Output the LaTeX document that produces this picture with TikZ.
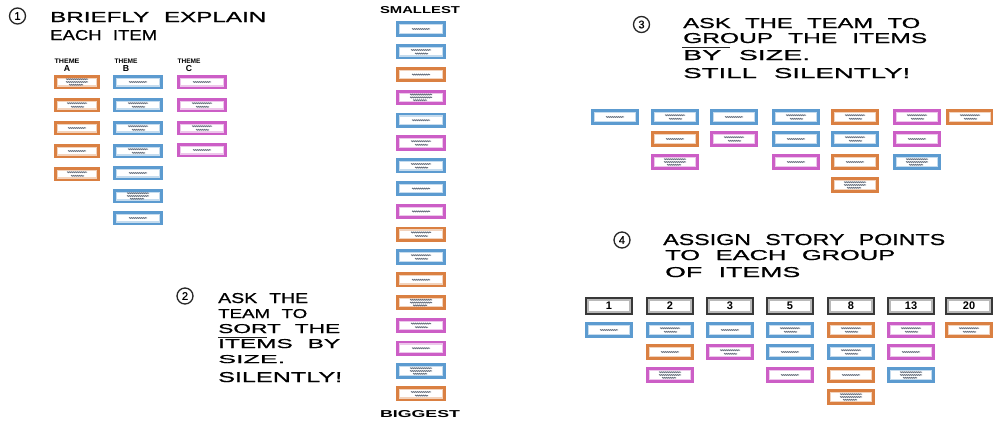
\documentclass[tikz,border=0pt]{standalone}
\usepackage{fontspec}
\usepackage{graphicx}
\setmainfont{Liberation Sans}
\newfontfamily\hand[WordSpace=2.2,FakeBold=0.7]{Liberation Sans}
\usetikzlibrary{decorations.pathmorphing}
\definecolor{cOr}{RGB}{218,128,66}
\definecolor{cBl}{RGB}{92,155,208}
\definecolor{cMg}{RGB}{204,94,198}
\definecolor{scr}{RGB}{105,114,128}
\newcommand\hw[3]{\resizebox{#1pt}{#2pt}{\hand #3}}
\tikzset{
 card/.style={rectangle, line width=3.2pt, fill=white, inner sep=0pt},
 scrib/.style={draw=scr, line width=0.9pt, decorate, decoration={snake, amplitude=0.4pt, segment length=2pt}},
 numbox/.style={rectangle, draw=black!78, line width=2.4pt, fill=white, minimum width=45pt, minimum height=15pt, inner sep=0pt, font=\bfseries\fontsize{11}{11}\selectfont},
 hwtext/.style={anchor=base west, inner sep=0pt},
 circ/.style={circle, draw=black!85, line width=1.3pt, inner sep=0pt, minimum size=16pt, font=\hand\fontsize{11}{11}\selectfont},
 hdr/.style={inner sep=0pt, anchor=base},
 uline/.style={draw=black!85, line width=1.1pt},
}
\newcommand\card[7]{%
 \node[card, draw=#4, minimum width=#6pt, minimum height=#7pt] (#1) at (#2,#3) {};
 \draw[#4!35, line width=1.1pt] ([xshift=3.4pt,yshift=-3.4pt]#1.north west) rectangle ([xshift=-3.4pt,yshift=3.4pt]#1.south east);
 \ifcase#5\or
  \draw[scrib] ([xshift=-9pt]#1.center) -- ([xshift=9pt]#1.center);
 \or
  \draw[scrib] ([xshift=-10pt,yshift=1.8pt]#1.center) -- ([xshift=10pt,yshift=1.8pt]#1.center);
  \draw[scrib] ([xshift=-6pt,yshift=-1.8pt]#1.center) -- ([xshift=7pt,yshift=-1.8pt]#1.center);
 \or
  \draw[scrib] ([xshift=-11pt,yshift=2.8pt]#1.center) -- ([xshift=11pt,yshift=2.8pt]#1.center);
  \draw[scrib] ([xshift=-11pt]#1.center) -- ([xshift=11pt]#1.center);
  \draw[scrib] ([xshift=-8pt,yshift=-2.8pt]#1.center) -- ([xshift=6pt,yshift=-2.8pt]#1.center);
 \fi}
\begin{document}
\begin{tikzpicture}[x=1pt,y=-1pt]
\useasboundingbox (0,0) rectangle (993,424);
\fill[white] (0,0) rectangle (993,424);

% ---------- Panel 1 ----------
\node[circ] (c1) at (17.5,16) {1};
\node[hwtext] (t1a) at (50,22) {\hw{216}{10}{BRIEFLY EXPLAIN}};
\node[hwtext] (t1b) at (50,40) {\hw{107}{10}{EACH ITEM}};
\node[hdr] (hA1) at (67,63) {\resizebox{25pt}{4.5pt}{\bfseries THEME}};
\node[hdr] (hA2) at (67,71) {\resizebox{!}{6pt}{\bfseries A}};
\node[hdr] (hB1) at (126,63) {\resizebox{23pt}{4.5pt}{\bfseries THEME}};
\node[hdr] (hB2) at (126,71) {\resizebox{!}{6pt}{\bfseries B}};
\node[hdr] (hC1) at (189,63) {\resizebox{23pt}{4.5pt}{\bfseries THEME}};
\node[hdr] (hC2) at (189,71) {\resizebox{!}{6pt}{\bfseries C}};
\foreach \yy/\n [count=\i] in {82/3,105/2,128/1,151/1,174/2}
  {\card{a\i}{77}{\yy}{cOr}{\n}{43}{11.5}}
\foreach \yy/\n [count=\i] in {82/1,105/2,128/2,151/2,173/1,196/3,218/1}
  {\card{b\i}{138}{\yy}{cBl}{\n}{46}{11.5}}
\foreach \yy/\n [count=\i] in {82/1,105/2,128/2,150/1}
  {\card{cc\i}{202}{\yy}{cMg}{\n}{46}{11.5}}

% ---------- Panel 2 ----------
\node[hdr] (small) at (420,13) {\resizebox{80pt}{7pt}{\bfseries SMALLEST}};
\foreach \col/\n [count=\i from 0] in {cBl/1,cBl/2,cOr/1,cMg/3,cBl/1,cMg/2,cBl/2,cBl/1,cMg/1,cOr/2,cBl/2,cOr/1,cOr/3,cMg/2,cMg/1,cBl/3,cOr/2}
  {\pgfmathsetmacro\yy{29+22.8*\i}\card{m\i}{421}{\yy}{\col}{\n}{46}{12}}
\node[hdr] (big) at (420,417) {\resizebox{80pt}{7pt}{\bfseries BIGGEST}};

\node[circ] (c2) at (185,296) {2};
\node[hwtext] (t2a) at (218,303) {\hw{90}{10}{ASK THE}};
\node[hwtext] (t2b) at (218,318) {\hw{89}{9}{TEAM TO}};
\node[hwtext] (t2c) at (218,333) {\hw{122}{9}{SORT THE}};
\draw[uline] (218,337.5) -- (267,337.5);
\node[hwtext] (t2d) at (218,348) {\hw{122}{9}{ITEMS BY}};
\node[hwtext] (t2e) at (218,363) {\hw{67}{8}{SIZE.}};
\node[hwtext] (t2f) at (218,382) {\hw{124}{10}{SILENTLY!}};

% ---------- Panel 3 ----------
\node[circ] (c3) at (641.5,24.5) {3};
\node[hwtext] (t3a) at (683,28) {\hw{237}{10}{ASK THE TEAM TO}};
\node[hwtext] (t3b) at (683,43) {\hw{244}{10}{GROUP THE ITEMS}};
\draw[uline] (682,47.5) -- (730,47.5);
\node[hwtext] (t3c) at (683,60) {\hw{127}{10}{BY SIZE.}};
\node[hwtext] (t3d) at (683,78) {\hw{227}{10}{STILL SILENTLY!}};
\foreach \ci/\ri/\col/\n in {1/1/cBl/1,2/1/cBl/2,2/2/cOr/1,2/3/cMg/3,3/1/cBl/1,3/2/cMg/2,4/1/cBl/2,4/2/cBl/1,4/3/cMg/1,5/1/cOr/2,5/2/cBl/2,5/3/cOr/1,5/4/cOr/3,6/1/cMg/2,6/2/cMg/1,6/3/cBl/3,7/1/cOr/2}
  {\pgfmathsetmacro\xx{{615,675,734,796,855,917,970}[\ci-1]}%
   \pgfmathsetmacro\yy{{117,139,162,185}[\ri-1]}%
   \card{g\ci r\ri}{\xx}{\yy}{\col}{\n}{44}{12}}

% ---------- Panel 4 ----------
\node[circ] (c4) at (622,240) {4};
\node[hwtext] (t4a) at (663,245) {\hw{282}{11}{ASSIGN STORY POINTS}};
\node[hwtext] (t4b) at (665,260) {\hw{230}{10}{TO EACH GROUP}};
\node[hwtext] (t4c) at (665,277) {\hw{135}{10}{OF ITEMS}};
\foreach \x/\l [count=\i] in {609/1,670/2,730/3,790/5,851/8,911/13,969/20}
  {\node[numbox] (n\i) at (\x,306) {\l};
   \draw[gray!55, line width=1.4pt] ([xshift=2.7pt,yshift=-2.7pt]n\i.north west) rectangle ([xshift=-2.7pt,yshift=2.7pt]n\i.south east);}
\foreach \ci/\ri/\col/\n in {1/1/cBl/1,2/1/cBl/2,2/2/cOr/1,2/3/cMg/3,3/1/cBl/1,3/2/cMg/2,4/1/cBl/2,4/2/cBl/1,4/3/cMg/1,5/1/cOr/2,5/2/cBl/2,5/3/cOr/1,5/4/cOr/3,6/1/cMg/2,6/2/cMg/1,6/3/cBl/3,7/1/cOr/2}
  {\pgfmathsetmacro\xx{{609,670,730,790,851,911,969}[\ci-1]}%
   \pgfmathsetmacro\yy{{330,352,375,397}[\ri-1]}%
   \card{s\ci r\ri}{\xx}{\yy}{\col}{\n}{44}{13}}
\end{tikzpicture}
\end{document}
